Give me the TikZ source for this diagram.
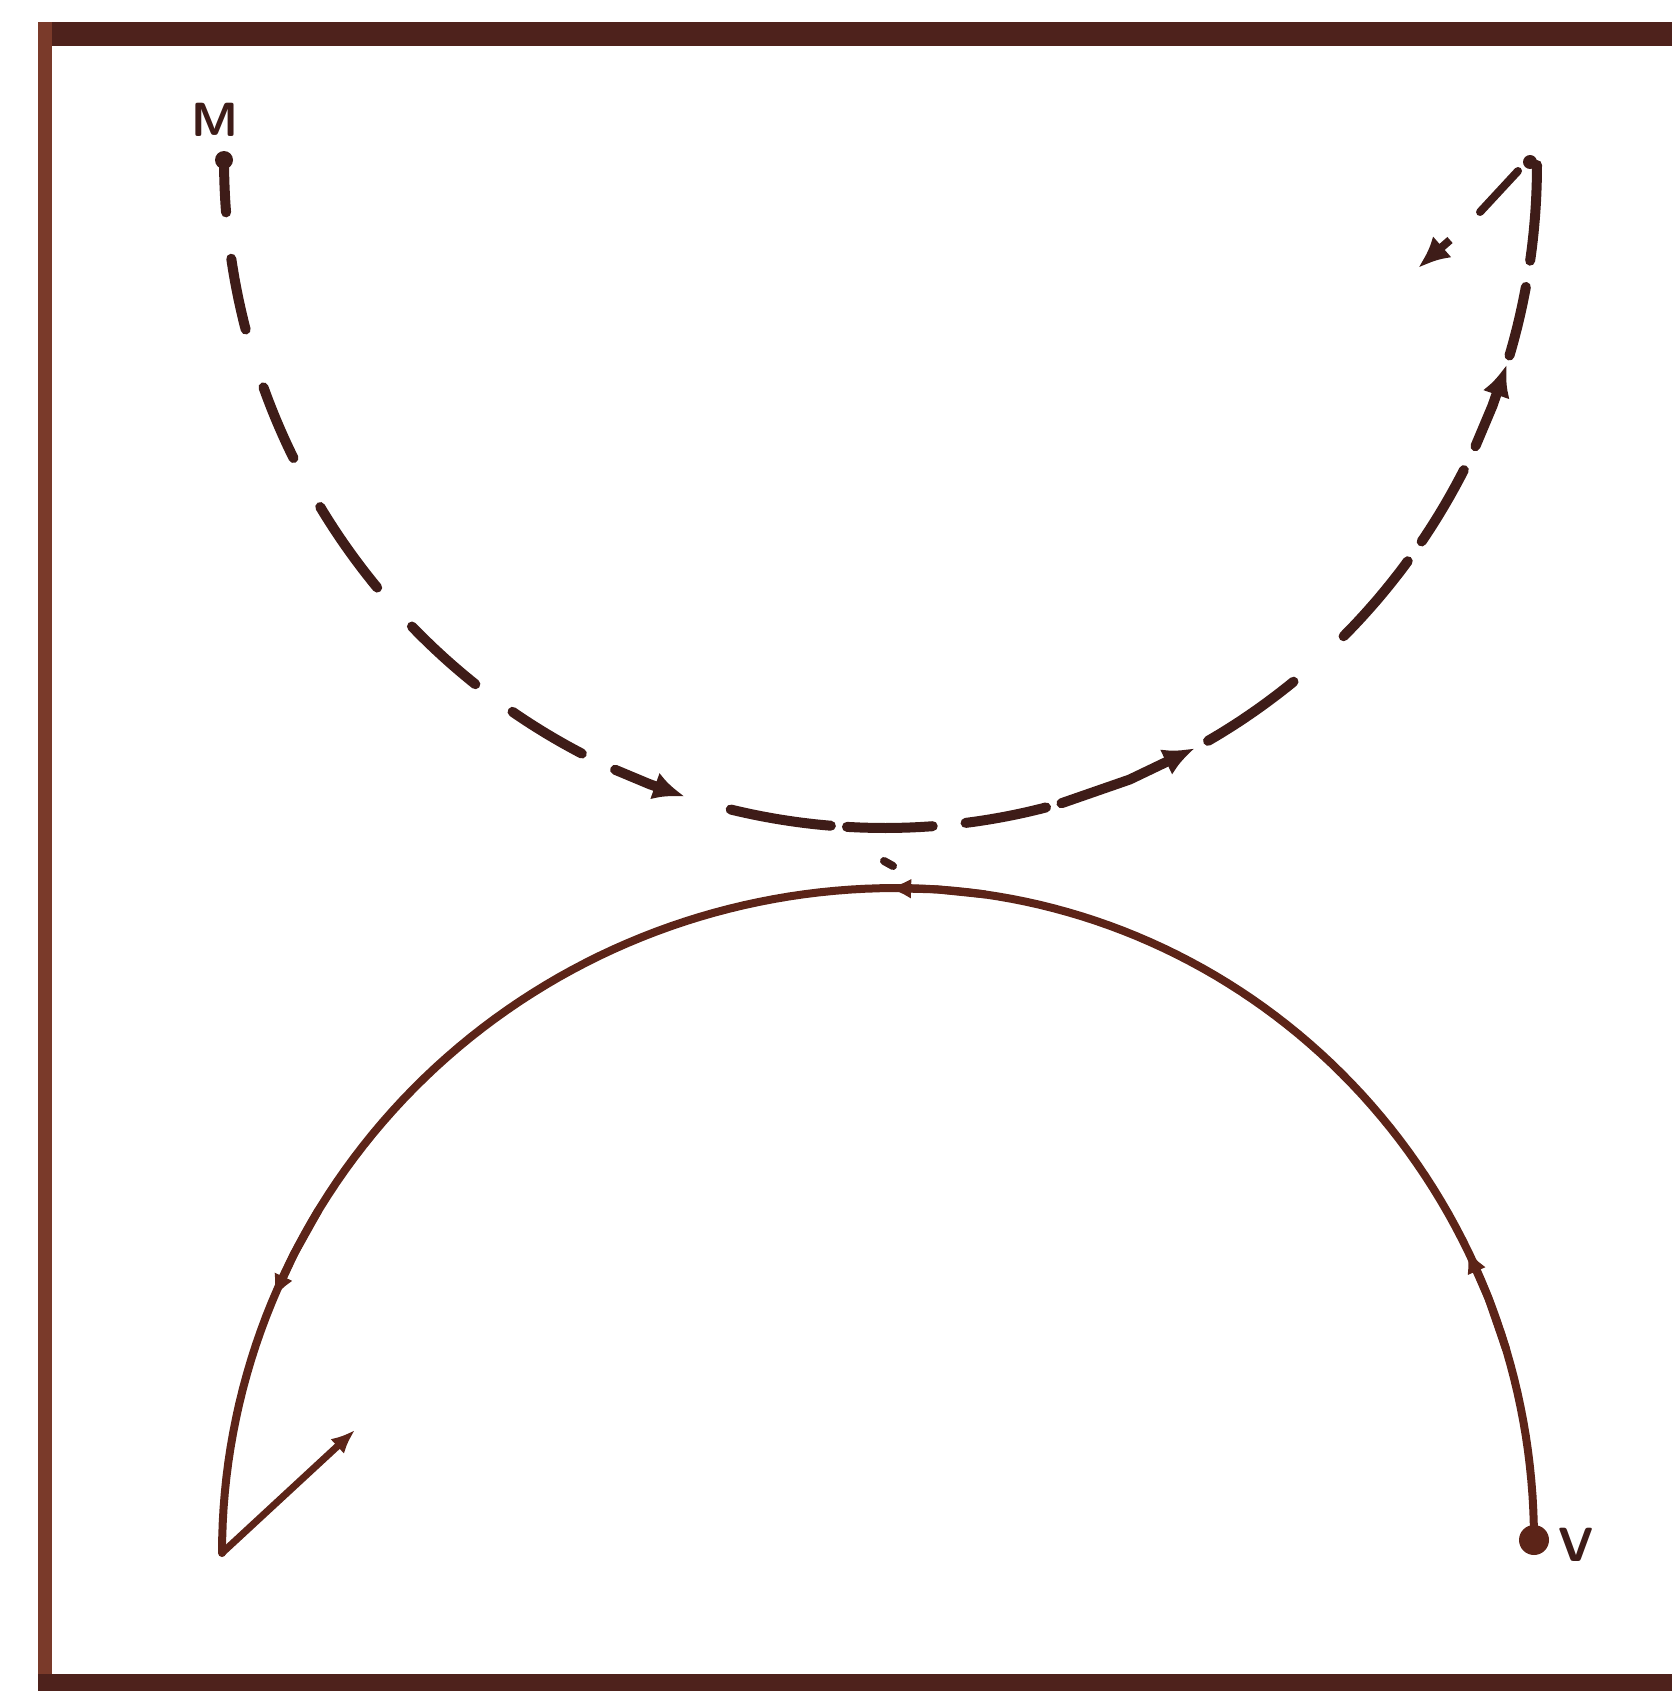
\documentclass[tikz,border=0pt]{standalone}
\usetikzlibrary{arrows.meta}
\begin{document}
\begin{tikzpicture}[x=0.5pt,y=-0.5pt]
\useasboundingbox (0,0) rectangle (1672,1691);
\definecolor{ink}{HTML}{3E1C18}
\definecolor{inkb}{HTML}{5C2418}
\definecolor{framec}{HTML}{4E221C}
\definecolor{framel}{HTML}{7A3A2A}
\tikzset{
  dashseg/.style={ink, line width=5pt, line cap=round},
  solidpath/.style={inkb, line width=4pt, line cap=round, line join=round},
  tipd/.style={-{Latex[length=16pt,width=14pt]}},
  tips/.style={-{Latex[length=12pt,width=10pt]}},
  lbl/.style={font=\sffamily\bfseries\fontsize{24}{24}\selectfont, text=ink, inner sep=0pt},
}
% frame
\fill[framec] (38,22) rectangle (1672,46);
\fill[framel] (38,22) rectangle (52,1691);
\fill[framec] (38,1674) rectangle (1672,1691);

% named points
\coordinate (Mdot) at (224,160);
\coordinate (Top) at (1530,162);
\coordinate (Hstart) at (1480,212);
\coordinate (Htail) at (1450,240);
\coordinate (Hend) at (1418,268);
\coordinate (Vdot) at (1534,1540);
\coordinate (Lbot) at (222,1553);
\coordinate (Lend) at (355,1430);

\node[lbl] (M) at (215,120) {M};
\node[lbl] (V) at (1576,1545) {V};

% upper dashed path: left quarter
\fill[ink] (Mdot) circle (4.5pt);
\foreach \a/\b in {180/175.5, 171.5/165.3, 160.1/153.5, 148.7/140.2, 135.7/128.3, 124.3/117.3, 103.5/94.7, 93.3/90}
  \draw[dashseg] plot[domain=\a:\b, samples=15] ({885+661*cos(\x)},{160+668*sin(\x)});
\draw[dashseg, tipd] plot[domain=114.1:107.6, samples=3] ({885+661*cos(\x)},{160+668*sin(\x)});
% upper dashed path: right quarter
\foreach \a/\b in {90/85.8, 82.9/75.7, 60.3/51.2, 45.3/36.7, 34.6/27.4, 16.7/10.6, 8.3/0}
  \draw[dashseg] plot[domain=\a:\b, samples=15] ({885+652*cos(\x)},{165+663*sin(\x)});
\draw[dashseg, tipd] plot[domain=74.3:61.6, samples=3] ({885+652*cos(\x)},{165+663*sin(\x)});
\draw[dashseg, tipd] plot[domain=25.1:17.5, samples=3] ({885+652*cos(\x)},{165+663*sin(\x)});
% hook at the top right
\fill[ink] (Top) circle (3.5pt);
\draw[dashseg, line width=4pt] (1518,171) -- (Hstart);
\draw[ink, line width=4pt, tipd] (Htail) -- (Hend);

% lower solid path (two quarter ellipses)
\draw[solidpath] plot[domain=0:90, samples=70] ({896+638*cos(\x)},{1540-652*sin(\x)});
\draw[solidpath] plot[domain=90:180, samples=70] ({896+674*cos(\x)},{1553-665*sin(\x)});
\draw[solidpath, line width=3.5pt, tips] (Lbot) -- (Lend);
\fill[inkb] (Vdot) circle (7.5pt);
% arrowheads on the solid path
\draw[solidpath, tips] plot[domain=82:90.8, samples=3] ({896+638*cos(\x)},{1540-652*sin(\x)});
\draw[solidpath, tips] plot[domain=149:157.5, samples=3] ({896+674*cos(\x)},{1553-665*sin(\x)});
\draw[solidpath, tips] plot[domain=17:26.5, samples=3] ({896+638*cos(\x)},{1540-652*sin(\x)});
% small tick
\draw[ink, line width=4pt, line cap=round] (884,861) -- (893,866);
\end{tikzpicture}
\end{document}
